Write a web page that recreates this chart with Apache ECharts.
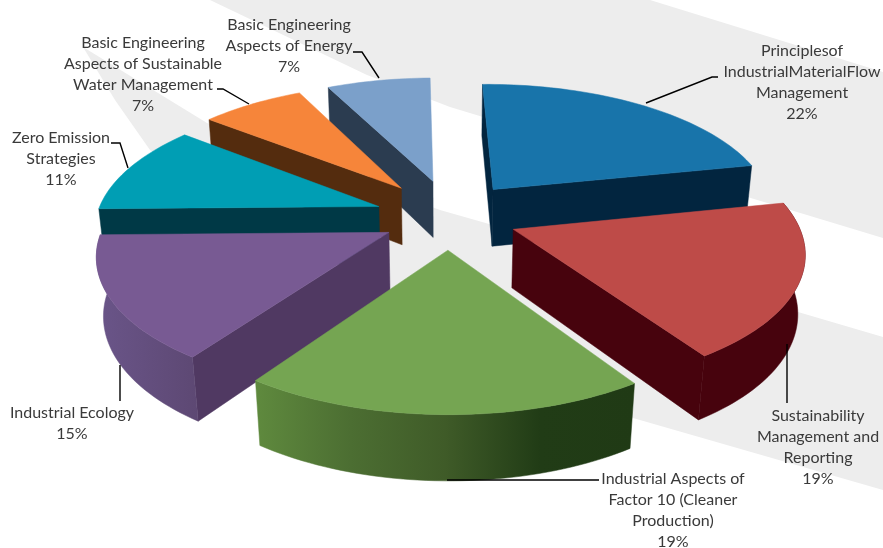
<!DOCTYPE html>
<html>
<head>
<meta charset="utf-8">
<style>html,body{margin:0;padding:0;background:#fff}#chart{width:883px;height:548px}</style>
<script src="https://cdn.jsdelivr.net/npm/echarts@6/dist/echarts.min.js"></script>
</head>
<body>
<div id="chart"></div>
<script>
// Course share of the programme, in percent, clockwise from twelve o'clock.
const categories = [
  'Principlesof\nIndustrialMaterialFlow\nManagement',
  'Sustainability\nManagement and\nReporting',
  'Industrial Aspects of\nFactor 10 (Cleaner\nProduction)',
  'Industrial Ecology',
  'Zero Emission\nStrategies',
  'Basic Engineering\nAspects of Sustainable\nWater Management',
  'Basic Engineering\nAspects of Energy'
];
const shares = [22, 19, 19, 15, 11, 7, 7];

// Slice colours: top face, radial walls, rim gradient stops.
const topColors = ['#1874aa', '#be4b48', '#75a552', '#785a93', '#009eb4', '#f6853a', '#7ba0ca'];
const wallColors = ['#02253f', '#47030d', '#203a15', '#503962', '#003946', '#542c0e', '#2b3c50'];
const rimStops = [
  ['#02253f', '#02253f'],
  ['#47030d', '#47030d'],
  ['#5f8a3e', '#4c6e32', '#3f5b28', '#213c16', '#203a15'],
  ['#6a5589', '#5d4873'],
  ['#003946', '#003946'],
  ['#542c0e', '#542c0e'],
  ['#2b3c50', '#2b3c50']
];

// How far each slice is pulled out of the pie, in pie radii (right, back).
const explode = [
  [0.183, 0.205], [0.245, -0.11], [0.0167, -0.264], [-0.188, -0.133],
  [-0.2297, 0.067], [-0.1525, 0.216], [-0.037, 0.275]
];
// Back-to-front painting rank of each slice.
const paintRank = [3, 5, 6, 4, 2, 1, 0];

// Label placement: text centre and leader line, in pixels.
const labelCenters = [[802, 82], [818, 447], [673, 510], [72, 423], [61, 159], [143, 74], [289, 46]];
const leaders = [
  [[646, 103], [712, 77], [718, 77]],
  [[787, 344], [787, 403]],
  [[447, 480], [599, 480]],
  [[120, 365], [120, 401]],
  [[128, 168], [120, 143], [111, 143]],
  [[249, 104], [223, 89], [217, 89]],
  [[379, 78], [362, 52], [353, 52]]
];

// Pale swooshes behind the pie.
const bands = [
  [[210, 0], [650, 0], [883, 72], [883, 238], [450, 107], [367, 75]],
  [[83, 47], [207, 123], [440, 210], [798, 312], [883, 337], [883, 490], [633, 418], [387, 290], [150, 150], [115, 100]]
];

// Perspective camera for the tilted pie.
const cam = { cx: 443, cy: 215, ax: 282, by: 128, k: 0.15, drop: 59, shrink: 0.02, rotate: -1 };

function project(x, y, bottom) {
  const w = 1 + cam.k * y + (bottom ? cam.shrink : 0);
  return [
    cam.cx + cam.ax * x / w,
    cam.cy + (-cam.by * y + (bottom ? cam.drop : 0)) / w
  ];
}

const total = shares.reduce((a, b) => a + b, 0);
const cumulative = shares.map((_, i) => shares.slice(0, i).reduce((a, b) => a + b, 0));

function signedArea(pts) {
  let s = 0;
  for (let i = 0; i < pts.length; i++) {
    const p = pts[i], q = pts[(i + 1) % pts.length];
    s += p[0] * q[1] - q[0] * p[1];
  }
  return s / 2;
}

function renderSlice(params, api) {
  const i = params.dataIndex;
  const value = api.value(0);
  const a0 = cumulative[i] / total * 360 + cam.rotate;
  const a1 = a0 + value / total * 360;
  const [ox, oy] = explode[i];
  const world = [];
  const n = Math.max(8, Math.ceil((a1 - a0) / 1.5));
  for (let j = 0; j <= n; j++) {
    const t = (a0 + (a1 - a0) * j / n) * Math.PI / 180;
    world.push([ox + Math.sin(t), oy + Math.cos(t)]);
  }
  const apexTop = project(ox, oy, false);
  const apexBot = project(ox, oy, true);
  const arcTop = world.map(p => project(p[0], p[1], false));
  const arcBot = world.map(p => project(p[0], p[1], true));
  const base = paintRank[i] * 10;
  const children = [];

  // A wall is only drawn when it faces the viewer.
  const wall = (pts, fill, z) => {
    if (signedArea(pts) > 0) {
      children.push({
        type: 'polygon', z2: base + z,
        shape: { points: pts },
        style: { fill: fill, stroke: fill, lineWidth: 0.5 }
      });
    }
  };
  wall([arcTop[0], apexTop, apexBot, arcBot[0]], wallColors[i], 1);
  wall([apexTop, arcTop[n], arcBot[n], apexBot], wallColors[i], 1);

  const stops = rimStops[i];
  wall(arcTop.slice().reverse().concat(arcBot), new echarts.graphic.LinearGradient(0, 0, 1, 0,
    stops.map((c, s) => ({ offset: s / (stops.length - 1), color: c }))), 2);

  children.push({
    type: 'polygon', z2: base + 3,
    shape: { points: [apexTop].concat(arcTop) },
    style: { fill: topColors[i], stroke: topColors[i], lineWidth: 0.5 }
  });

  children.push({
    type: 'polyline', z2: 200,
    shape: { points: leaders[i] },
    style: { fill: null, stroke: '#000', lineWidth: 1.4 }
  });
  children.push({
    type: 'text', z2: 201,
    style: {
      text: categories[i] + '\n' + value + '%',
      x: labelCenters[i][0], y: labelCenters[i][1],
      align: 'center', verticalAlign: 'middle',
      fontFamily: 'Lato', fontSize: 16, lineHeight: 21, fill: '#3a3a3a'
    }
  });
  return { type: 'group', children };
}

const chart = echarts.init(document.getElementById('chart'), null, { renderer: 'canvas' });
chart.setOption({
  animation: false,
  backgroundColor: '#fff',
  graphic: bands.map(points => ({
    type: 'polygon', z: 0, silent: true,
    shape: { points },
    style: { fill: '#ededed' }
  })),
  series: [{
    type: 'custom',
    coordinateSystem: 'none',
    z: 5,
    data: shares.map(v => [v]),
    renderItem: renderSlice
  }]
});
</script>
</body>
</html>
